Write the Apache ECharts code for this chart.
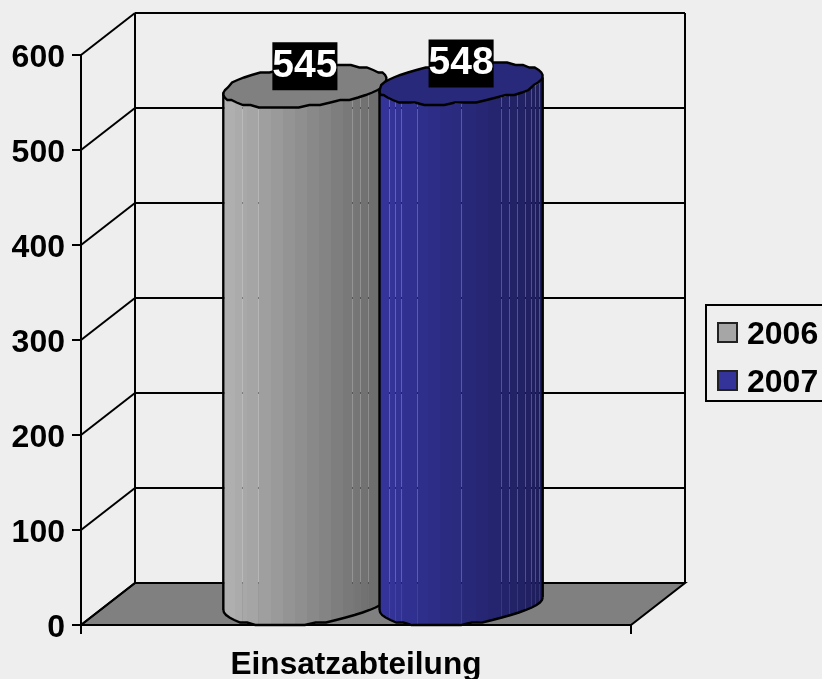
<!DOCTYPE html>
<html>
<head>
<meta charset="utf-8">
<title>Einsatzabteilung</title>
<style>
html, body { margin: 0; padding: 0; background: #eeeeee; }
#chart { width: 822px; height: 679px; }
</style>
<script src="https://cdn.jsdelivr.net/npm/echarts@6/dist/echarts.min.js"></script>
</head>
<body>
<div id="chart"></div>
<script>
var categories = ['Einsatzabteilung'];
var yearNames = ['2006', '2007'];
var values2006 = [545];
var values2007 = [548];
var yTicks = [0, 100, 200, 300, 400, 500, 600];

// fake 3d
var depthX = 54;
var depthY = -42;
var fontName = '"Liberation Sans", Arial, sans-serif';

// facet joins of each cylinder, px from its left edge
var seams2006 = [1.5, 19.5, 35.5, 129.5, 137.5, 145.5];
var seams2007 = [9.5, 15.5, 21.5, 37.5, 81.5, 121.5, 129.5, 137.5, 145.5, 151.5, 155.5, 159.5];

function mix(a, b, t) {
	return 'rgb(' + a.map(function(v, i) {
		return Math.round(v + (b[i] - v) * t);
	}).join(',') + ')';
}

// lower edge of the tilted ellipse at dx from its centre
function lowerEdge(dx, a, c, b) {
	var A = 1 + c * c / (a * a);
	var B = dx * c / (a * a);
	var C = dx * dx / (a * a) - 1;
	var d = Math.max(B * B - A * C, 0);
	return -b * (B - Math.sqrt(d)) / A;
}

function ellipsePoint(cx, cy, a, c, b, t) {
	return [cx + a * Math.cos(t) + c * Math.sin(t), Math.round((cy - b * Math.sin(t)) / 2.5) * 2.5];
}

function lineShape(x1, y1, x2, y2, width) {
	return {
		type: 'line',
		shape: { x1: x1, y1: y1, x2: x2, y2: y2 },
		style: { stroke: '#000', lineWidth: width }
	};
}

function renderWalls(params, api) {
	var rect = params.coordSys;
	var y = api.coord([0, api.value(0)])[1];
	var left = rect.x;
	var right = rect.x + rect.width;
	var kids = [];
	if (api.value(0) === 0) {
		kids.push({
			type: 'polygon',
			shape: { points: [[left, y], [right, y], [right + depthX, y + depthY], [left + depthX, y + depthY]] },
			style: { fill: '#808080', stroke: '#000', lineWidth: 2 }
		});
		kids.push(lineShape(left + depthX, y + depthY, left + depthX, rect.y + depthY, 2));
		kids.push(lineShape(right + depthX, y + depthY, right + depthX, rect.y + depthY, 2));
	} else {
		kids.push(lineShape(left + depthX, y + depthY, right + depthX, y + depthY, 2));
	}
	kids.push(lineShape(left, y, left + depthX, y + depthY, 2));
	return { type: 'group', children: kids };
}

function cylinderRenderer(side, seams, colA, colB, topCol) {
	return function(params, api) {
		var band = api.size([1, 0])[0];
		var a = band * 0.14;
		var c = depthX / 2;
		var b = -depthY / 2;
		var halfW = Math.sqrt(a * a + c * c);
		var theta = Math.atan2(c, a);
		var front = api.coord([api.value(0), 0]);
		var head = api.coord([api.value(0), api.value(1)]);
		var cx = front[0] + depthX / 2 + side * band * 0.142;
		var baseY = front[1] + depthY / 2;
		var topY = head[1] + depthY / 2;
		var leftX = Math.round(cx - halfW);
		var kids = [];
		var edges = [0];
		var i, p;
		for (i = 12; i < 2 * halfW; i += 12) {
			edges.push(i);
		}
		edges = edges.concat(seams, 2 * halfW).sort(function(m, n) { return m - n; });
		for (i = 0; i < edges.length - 1; i++) {
			var dx1 = edges[i] - halfW;
			var dx2 = edges[i + 1] - halfW;
			kids.push({
				type: 'polygon',
				shape: { points: [
					[leftX + edges[i], topY + lowerEdge(dx1, a, c, b)],
					[leftX + edges[i + 1], topY + lowerEdge(dx2, a, c, b)],
					[leftX + edges[i + 1], baseY + lowerEdge(dx2, a, c, b)],
					[leftX + edges[i], baseY + lowerEdge(dx1, a, c, b)]
				] },
				style: { fill: mix(colA, colB, (edges[i] + edges[i + 1]) / (4 * halfW)), lineWidth: 0 }
			});
		}
		var bottomPts = [];
		for (i = 0; i <= 24; i++) {
			p = ellipsePoint(cx, baseY, a, c, b, Math.PI + theta + Math.PI * i / 24);
			bottomPts.push(p);
		}
		var topPts = [];
		for (i = 0; i < 48; i++) {
			topPts.push(ellipsePoint(cx, topY, a, c, b, Math.PI * i / 24));
		}
		var leftTop = ellipsePoint(cx, topY, a, c, b, Math.PI + theta);
		var rightTop = ellipsePoint(cx, topY, a, c, b, theta);
		kids.push({
			type: 'polyline',
			shape: { points: bottomPts },
			style: { stroke: '#000', lineWidth: 2.4, fill: null }
		});
		kids.push(lineShape(cx - halfW, leftTop[1], cx - halfW, bottomPts[0][1], 2.4));
		kids.push(lineShape(cx + halfW, rightTop[1], cx + halfW, bottomPts[24][1], 2.4));
		kids.push({
			type: 'polygon',
			shape: { points: topPts },
			style: { fill: topCol, stroke: '#000', lineWidth: 2.4 }
		});
		kids.push({
			type: 'text',
			z2: 10,
			style: {
				x: cx,
				y: topY - 20,
				text: String(api.value(1)),
				align: 'center',
				verticalAlign: 'middle',
				fill: '#fff',
				font: 'bold 39px ' + fontName,
				backgroundColor: '#000',
				lineHeight: 48
			}
		});
		return { type: 'group', children: kids };
	};
}

var myChart = echarts.init(document.getElementById('chart'), null, { renderer: 'canvas' });
var option = {
	animation: false,
	backgroundColor: '#eeeeee',
	grid: { left: 81, right: 191, top: 55, bottom: 54, outerBoundsMode: 'none' },
	legend: {
		data: yearNames,
		orient: 'vertical',
		left: 706,
		top: 305,
		padding: [14, 30, 2, 11],
		itemGap: 16,
		itemWidth: 19,
		itemHeight: 19,
		icon: 'rect',
		borderColor: '#000',
		borderWidth: 2,
		selectedMode: false,
		formatter: function(name) {
			return '{a|' + name + '}';
		},
		textStyle: {
			rich: {
				a: { fontFamily: fontName, fontWeight: 'bold', fontSize: 32, color: '#000', padding: [5, 0, 0, 5] }
			}
		}
	},
	xAxis: {
		type: 'category',
		data: categories,
		axisLine: { lineStyle: { color: '#000', width: 2 } },
		axisTick: { show: true, length: 9, lineStyle: { color: '#000', width: 2 } },
		axisLabel: { fontFamily: fontName, fontWeight: 'bold', fontSize: 31.6, color: '#000', margin: 24 }
	},
	yAxis: {
		type: 'value',
		min: 0,
		max: 600,
		interval: 100,
		splitLine: { show: false },
		axisLine: { show: true, lineStyle: { color: '#000', width: 2 } },
		axisTick: { show: true, length: 9, lineStyle: { color: '#000', width: 2 } },
		axisLabel: { fontFamily: fontName, fontWeight: 'bold', fontSize: 32, color: '#000', margin: 16, verticalAlign: 'top', lineHeight: 6 }
	},
	series: [{
		name: 'walls',
		type: 'custom',
		silent: true,
		z: 1,
		renderItem: renderWalls,
		data: yTicks.map(function(v) { return [v]; }),
		encode: { y: 0 }
	}, {
		name: yearNames[0],
		type: 'custom',
		z: 3,
		itemStyle: { color: '#a6a6a6', borderColor: '#222', borderWidth: 2 },
		renderItem: cylinderRenderer(-1, seams2006, [178, 178, 178], [104, 104, 104], '#808080'),
		data: values2006.map(function(v, i) { return [i, v]; }),
		encode: { x: 0, y: 1 }
	}, {
		name: yearNames[1],
		type: 'custom',
		z: 4,
		itemStyle: { color: '#333399', borderColor: '#222', borderWidth: 2 },
		renderItem: cylinderRenderer(1, seams2007, [52, 52, 156], [30, 30, 92], '#29297c'),
		data: values2007.map(function(v, i) { return [i, v]; }),
		encode: { x: 0, y: 1 }
	}]
};
myChart.setOption(option);
</script>
</body>
</html>
